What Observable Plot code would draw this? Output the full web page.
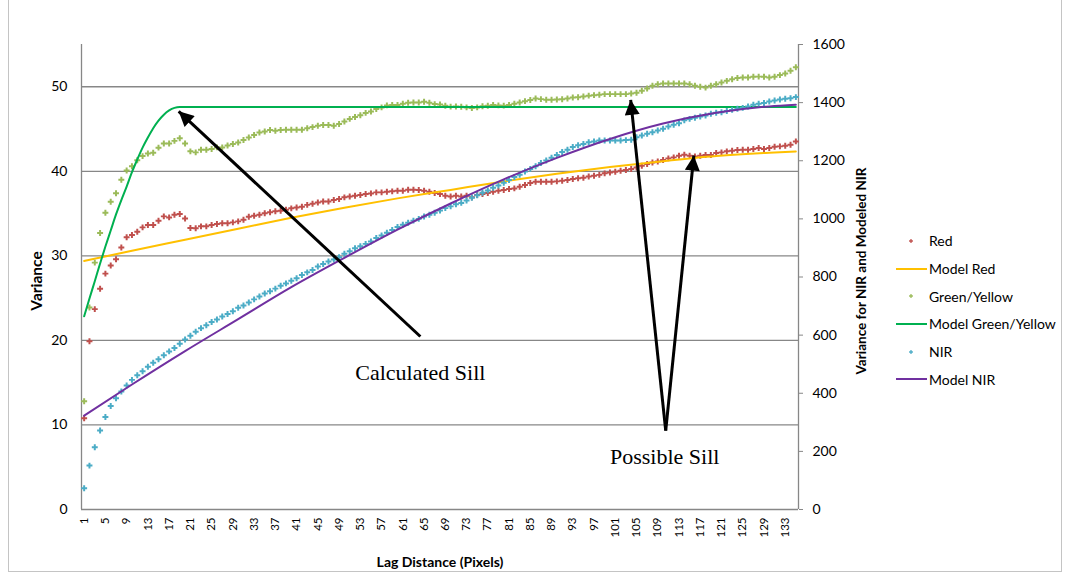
<!DOCTYPE html>
<html><head><meta charset="utf-8">
<script src="https://cdn.jsdelivr.net/npm/d3@7"></script>
<script src="https://cdn.jsdelivr.net/npm/@observablehq/plot@0.6"></script>
<style>
body{margin:0;background:#fff;}
#wrap{position:relative;width:1065px;height:574px;overflow:hidden;font-family:Lato,"Open Sans",sans-serif;}
#frame{position:absolute;left:8px;top:-2px;width:1054px;height:574px;border:1px solid #c4c4c4;box-sizing:border-box;}
#chart{position:absolute;left:0;top:0;}
#legend{position:absolute;left:896px;top:227px;font-size:14px;color:#000;}
.row{height:27.7px;display:flex;align-items:center;white-space:nowrap;}
.row svg{margin-right:2px;}
</style></head>
<body><div id="wrap"><div id="frame"></div><div id="chart"></div><div id="legend"></div></div>
<script>
const lag = d3.range(1, 136);
const red = [10.8,19.9,23.7,26.1,27.9,28.85,29.6,31.0,32.2,32.47,32.86,33.37,33.65,33.65,34.16,34.67,34.55,34.87,34.95,34.43,
33.3,33.27,33.49,33.49,33.65,33.77,33.85,33.85,33.96,34.08,34.28,34.63,34.75,34.87,35.03,35.15,35.27,35.34,35.46,35.62,
35.73,35.82,36.03,36.17,36.31,36.44,36.44,36.6,36.72,36.92,37.03,37.12,37.2,37.32,37.39,37.51,37.51,37.59,37.63,37.71,
37.71,37.83,37.83,37.79,37.71,37.59,37.43,37.32,37.12,37.03,37.12,37.03,37.12,36.92,37.2,37.32,37.43,37.59,37.71,37.79,
37.9,37.98,38.18,38.38,38.61,38.77,38.77,38.77,38.77,38.81,38.89,38.97,39.09,39.17,39.24,39.38,39.48,39.58,39.76,39.87,
39.95,40.07,40.15,40.27,40.46,40.66,40.86,41.05,41.17,41.33,41.53,41.65,41.84,41.96,41.84,41.76,41.84,41.92,41.92,42.16,
42.24,42.36,42.44,42.52,42.55,42.55,42.63,42.75,42.63,42.75,42.91,42.95,43.03,43.14,43.54];
const green = [12.8,23.9,29.2,32.7,35.1,36.4,37.4,39.0,40.1,40.6,41.3,41.8,42.1,42.2,42.8,43.3,43.3,43.6,43.9,43.3,
42.36,42.24,42.55,42.55,42.63,42.83,42.83,43.06,43.22,43.42,43.7,44.0,44.3,44.6,44.72,44.88,44.8,44.88,44.92,44.92,
44.92,44.92,45.1,45.23,45.39,45.47,45.47,45.39,45.59,45.9,46.2,46.42,46.64,46.91,47.08,47.36,47.56,47.8,47.85,47.85,
48.0,48.1,48.15,48.15,48.23,48.11,47.95,47.9,47.75,47.65,47.67,47.63,47.56,47.48,47.56,47.7,47.75,47.85,47.8,47.77,
47.85,48.0,48.15,48.3,48.44,48.62,48.54,48.46,48.46,48.5,48.52,48.62,48.72,48.76,48.84,48.95,49.01,49.05,49.13,49.13,
49.13,49.13,49.13,49.2,49.3,49.53,49.8,50.12,50.3,50.4,50.4,50.4,50.4,50.4,50.3,50.12,50.0,49.9,50.12,50.3,
50.5,50.7,50.9,51.03,51.1,51.1,51.18,51.2,51.18,51.1,51.18,51.38,51.57,51.9,52.3];
const nir = [73,151,214,272,318,356,383,406,427,446,462,476,491,505,517,531,544,556,570,585,
598,612,624,634,645,654,664,673,682,694,702,712,723,733,743,751,760,770,778,787,
796,807,816,824,836,845,853,860,868,880,889,899,906,914,922,934,943,952,962,972,
980,987,994,1000,1008,1014,1021,1029,1037,1043,1050,1055,1063,1073,1081,1090,1098,1107,1115,1124,
1134,1144,1152,1163,1172,1181,1192,1201,1210,1220,1230,1238,1247,1253,1258,1264,1266,1270,1270,1270,
1270,1270,1271,1272,1281,1287,1293,1298,1304,1310,1318,1324,1329,1339,1344,1348,1352,1356,1362,1365,
1367,1371,1375,1379,1382,1387,1393,1396,1399,1404,1407,1411,1413,1415,1419];

const modelRedLag = [1,10,20,30,40,50,60,70,80,90,100,110,120,130,135];
const modelRed = [29.4,30.6,31.9,33.2,34.5,35.7,36.8,37.8,38.8,39.7,40.5,41.2,41.8,42.2,42.35];
const modelGreenLag = [1,2,3,4,5,6,7,8,9,10,11,12,13,14,15,16,17,18,19,20,135];
const modelGreen = [22.85,24.95,27.0,29.1,31.1,33.0,34.9,36.6,38.2,39.9,41.4,42.8,44.0,45.1,46.0,46.7,47.2,47.5,47.6,47.6,47.6];
const modelNirLag = [1,10,20,30,40,50,60,70,80,90,100,110,120,130,135];
const modelNir = [323,430,545,655,765,866,963,1053,1136,1210,1275,1328,1365,1387,1393];

const xTicks = [1,5,9,13,17,21,25,29,33,37,41,45,49,53,57,61,65,69,73,77,81,85,89,93,97,101,105,109,113,117,121,125,129,133];
const leftTicks = [0,10,20,30,40,50];
const rightTicks = [0,200,400,600,800,1000,1200,1400,1600];
const gridTicks = [10,20,30,40,50];
const leftMax = 55, rightMax = 1600;
const k = leftMax / rightMax;

const arrows = [
  {x1:64.3, y1:20.46, x2:18.8, y2:47.1},
  {x1:110.5, y1:9.34, x2:103.9, y2:48.46},
  {x1:110.5, y1:9.34, x2:115.8, y2:41.87}
];
const notes = [
  {label:"Calculated Sill", lag:64.3, value:16.2},
  {label:"Possible Sill", lag:110.3, value:6.26}
];

const colors = {red:"#C0504D", mred:"#FFC000", green:"#9BBB59", mgreen:"#00B050", nir:"#4BACC6", mnir:"#7030A0"};
const gray = "#878787";

const dots = lag.map((l,i)=>({lag:l, red:red[i], green:green[i], nir:nir[i]*k}));
const mRed = modelRedLag.map((l,i)=>({lag:l, v:modelRed[i]}));
const mGreen = modelGreenLag.map((l,i)=>({lag:l, v:modelGreen[i]}));
const mNir = modelNirLag.map((l,i)=>({lag:l, v:modelNir[i]*k}));

const chart = Plot.plot({
  width:1065, height:574,
  marginLeft:81, marginRight:267, marginTop:44, marginBottom:65,
  style:{fontFamily:"Lato, 'Open Sans', sans-serif", fontSize:"14px", color:"#000", background:"transparent"},
  x:{type:"linear", domain:[0.5,135.5]},
  y:{domain:[0,leftMax]},
  marks:[
    Plot.gridY(gridTicks, {stroke:gray, strokeOpacity:1, strokeWidth:1.3}),
    Plot.ruleY([0], {stroke:gray, strokeWidth:1.3}),
    Plot.ruleX([0.5,135.5], {stroke:gray, strokeWidth:1.3}),
    Plot.dot(dots, {x:"lag", y:"red", symbol:"cross", r:2.5, fill:colors.red}),
    Plot.line(mRed, {x:"lag", y:"v", stroke:colors.mred, strokeWidth:2, curve:"monotone-x"}),
    Plot.dot(dots, {x:"lag", y:"green", symbol:"cross", r:2.5, fill:colors.green}),
    Plot.line(mGreen, {x:"lag", y:"v", stroke:colors.mgreen, strokeWidth:2, curve:"monotone-x"}),
    Plot.dot(dots, {x:"lag", y:"nir", symbol:"cross", r:2.5, fill:colors.nir}),
    Plot.line(mNir, {x:"lag", y:"v", stroke:colors.mnir, strokeWidth:2, curve:"monotone-x"}),
    Plot.axisX(xTicks, {tickRotate:-90, tickSize:0, tickPadding:8, fontSize:11.5, label:null}),
    Plot.axisY(leftTicks, {anchor:"left", tickSize:0, tickPadding:14, fontSize:14, label:null}),
    Plot.axisY(rightTicks.map(t=>t*k), {anchor:"right", tickSize:4, stroke:gray, tickPadding:10, fontSize:14, label:null, tickFormat:d=>String(Math.round(d/k))}),
    Plot.link(arrows, {x1:"x1", y1:"y1", x2:"x2", y2:"y2", stroke:"#000", strokeWidth:3}),
    Plot.text(notes, {x:"lag", y:"value", text:"label", fontFamily:"'Liberation Serif', serif", fontSize:22}),
    Plot.text(["Variance"], {text:d=>d, frameAnchor:"left", textAnchor:"middle", lineAnchor:"middle", dx:-44, dy:4, rotate:-90, fontSize:15.5, fontWeight:"bold"}),
    Plot.text(["Variance for NIR and Modeled NIR"], {text:d=>d, frameAnchor:"right", textAnchor:"middle", lineAnchor:"middle", dx:63, dy:-6, rotate:-90, fontSize:13.5, fontWeight:"bold"}),
    Plot.text(["Lag Distance (Pixels)"], {text:d=>d, frameAnchor:"bottom", textAnchor:"middle", lineAnchor:"middle", dy:53, fontSize:14, fontWeight:"bold"})
  ]
});

const ns = "http://www.w3.org/2000/svg";
const defs = document.createElementNS(ns, "defs");
defs.innerHTML = '<marker id="ah" viewBox="0 0 10 10" refX="10" refY="5" markerWidth="5.3" markerHeight="5" orient="auto" markerUnits="strokeWidth"><path d="M0,0L10,5L0,10z" fill="#000"/></marker>';
chart.prepend(defs);
chart.querySelectorAll('g[aria-label="link"] path').forEach(p=>p.setAttribute("marker-end","url(#ah)"));
document.getElementById("chart").appendChild(chart);

const legendItems = [
  {name:"Red", type:"dot", color:colors.red},
  {name:"Model Red", type:"line", color:colors.mred},
  {name:"Green/Yellow", type:"dot", color:colors.green},
  {name:"Model Green/Yellow", type:"line", color:colors.mgreen},
  {name:"NIR", type:"dot", color:colors.nir},
  {name:"Model NIR", type:"line", color:colors.mnir}
];
const leg = d3.select("#legend");
legendItems.forEach(it=>{
  const row = leg.append("div").attr("class","row");
  const s = row.append("svg").attr("width",31).attr("height",10);
  if (it.type==="line") s.append("line").attr("x1",0).attr("x2",31).attr("y1",5).attr("y2",5).attr("stroke",it.color).attr("stroke-width",2);
  else s.append("path").attr("transform","translate(15,5)").attr("d",d3.symbol(d3.symbolCross, 8)()).attr("fill",it.color);
  row.append("span").text(it.name);
});
</script>
</body></html>
